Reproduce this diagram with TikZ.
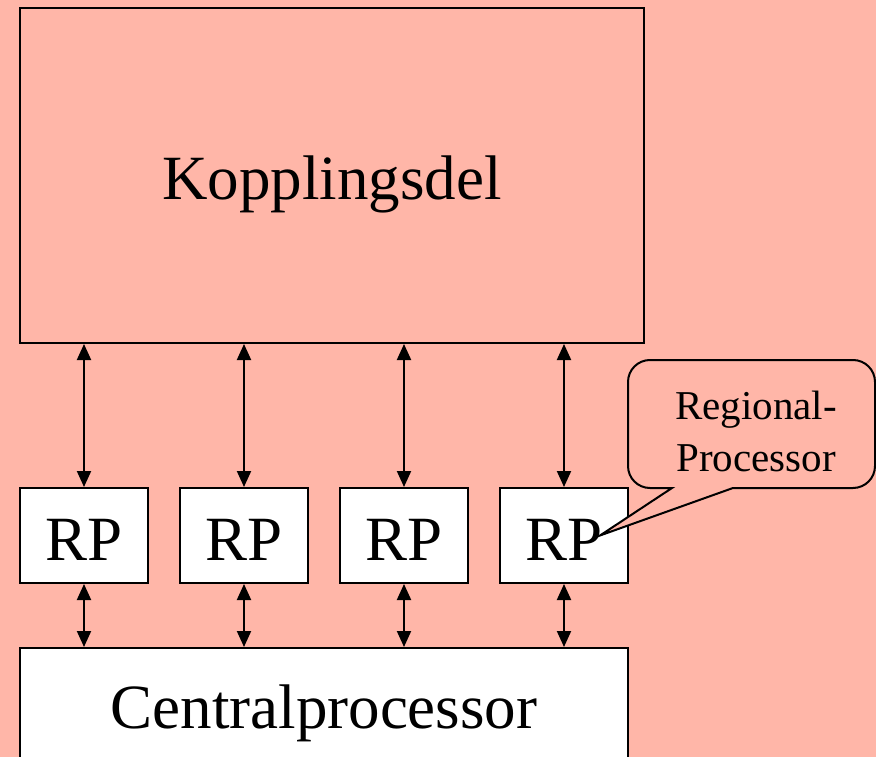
\documentclass[tikz,border=0pt]{standalone}
\usepackage{fontspec}
\setmainfont{Liberation Serif}
\usetikzlibrary{positioning,arrows.meta}
\definecolor{bg}{RGB}{255,182,168}

\begin{document}
\begin{tikzpicture}[x=1pt, y=-1pt, node distance=30pt,
	main/.style={draw, line width=2pt, inner sep=0pt, font=\fontsize{63}{70}\selectfont},
	rp/.style={main, fill=white, minimum width=128pt, minimum height=95pt, text height=49pt, text depth=0pt},
	link/.style={line width=2pt, {Triangle[length=16pt,width=14pt]}-{Triangle[length=16pt,width=14pt]}}]
	\fill[bg] (0,0) rectangle (876,757);
	\useasboundingbox (0,0) rectangle (876,757);
	\clip (0,0) rectangle (876,757);
	\node[main, minimum width=624pt, minimum height=335pt, text height=53pt, text depth=4pt] (kd) at (332,175.5) {Kopplingsdel};
	\node[rp] (rp1) at (84,535.5) {RP};
	\node[rp] (rp2) [right=of rp1] {RP};
	\node[rp] (rp3) [right=of rp2] {RP};
	\node[rp] (rp4) [right=of rp3] {RP};
	\node[main, fill=white, minimum width=608pt, minimum height=130pt] (cp) at (324,713) {Centralprocessor};
	\draw[link] (kd.south -| rp1) -- (rp1);
	\draw[link] (kd.south -| rp2) -- (rp2);
	\draw[link] (kd.south -| rp3) -- (rp3);
	\draw[link] (kd.south -| rp4) -- (rp4);
	\draw[link] (rp1) -- (cp.north -| rp1);
	\draw[link] (rp2) -- (cp.north -| rp2);
	\draw[link] (rp3) -- (cp.north -| rp3);
	\draw[link] (rp4) -- (cp.north -| rp4);
	\coordinate (tip) at ([xshift=36pt]rp4.center);
	\draw[fill=bg, line width=2pt, rounded corners=22pt] (733,488) -- (875,488) -- (875,360) -- (628,360) -- (628,488) [sharp corners] -- (672,488) -- (tip) -- cycle;
	\node[font=\fontsize{41}{52}\selectfont, align=center] (note) at (756,431.5) {Regional-\\Processor};
\end{tikzpicture}
\end{document}
